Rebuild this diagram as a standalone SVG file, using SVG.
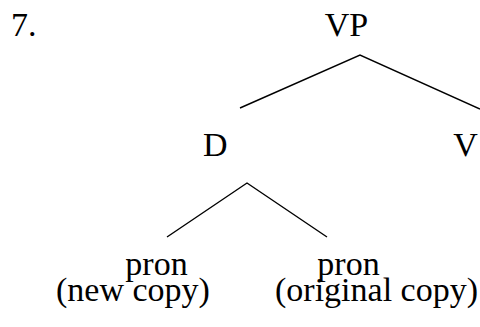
<svg xmlns="http://www.w3.org/2000/svg" width="480" height="327" viewBox="0 0 480 327">
<style>
.t{font-family:'Liberation Serif',serif;font-size:34px;fill:#000}
.m{text-anchor:middle}
.e{stroke:#000;stroke-width:1.4;fill:none}
</style>
<rect width="480" height="327" fill="#fff"/>
<g font-family="Liberation Serif" font-size="34" fill="#000">
<text id="num" class="t" x="11" y="36">7.</text>
<g id="VP"><text class="t m" text-anchor="middle" x="346.5" y="36">VP</text></g>
<g id="D"><text class="t m" text-anchor="middle" x="215.3" y="156">D</text></g>
<g id="V"><text class="t m" text-anchor="middle" x="465.5" y="156">V</text></g>
<g id="pron1"><text class="t m" text-anchor="middle" x="156.5" y="275">pron</text><text class="t m" text-anchor="middle" x="133" y="301">(new copy)</text></g>
<g id="pron2"><text class="t m" text-anchor="middle" x="348.5" y="275">pron</text><text class="t m" text-anchor="middle" x="376.5" y="301">(original copy)</text></g>
</g>
<g id="connectors" stroke="#000" stroke-width="1.4" fill="none">
<polyline class="e" points="240,108 360,55 480,109"/>
<polyline class="e" points="167,237 247,183 327,237"/>
</g>
</svg>
